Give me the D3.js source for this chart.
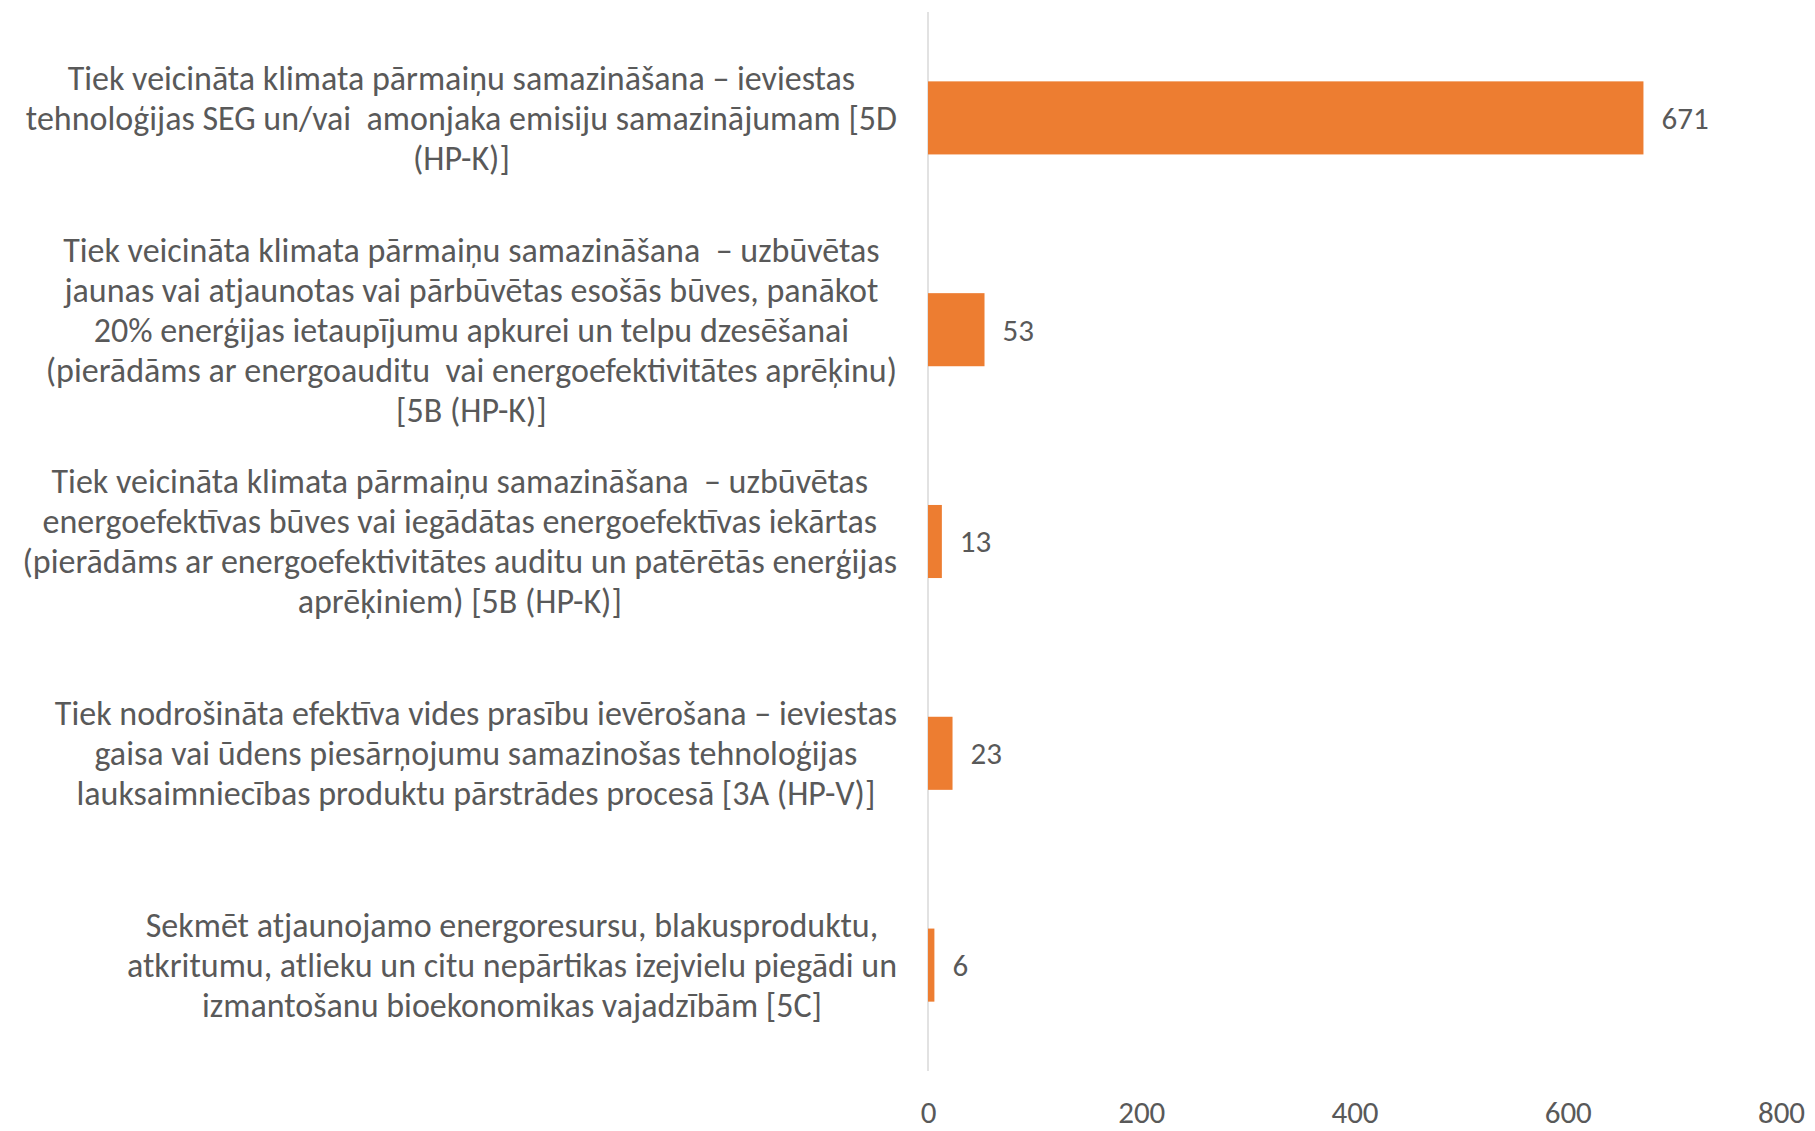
<!DOCTYPE html>
<html lang="lv">
<head>
<meta charset="utf-8">
<title>Bar chart</title>
<script src="https://cdn.jsdelivr.net/npm/d3@7"></script>
<style>
  body { margin: 0; background: #fff; }
  text { font-family: Carlito, Calibri, Lato, sans-serif; fill: #595959; white-space: pre; }
</style>
</head>
<body>
<script>
// categories (line breaks as in the original)
var categories = [
  "Tiek veicināta klimata pārmaiņu samazināšana – ieviestas\ntehnoloģijas SEG un/vai  amonjaka emisiju samazinājumam [5D\n(HP-K)]",
  "Tiek veicināta klimata pārmaiņu samazināšana  – uzbūvētas\njaunas vai atjaunotas vai pārbūvētas esošās būves, panākot\n20% enerģijas ietaupījumu apkurei un telpu dzesēšanai\n(pierādāms ar energoauditu  vai energoefektivitātes aprēķinu)\n[5B (HP-K)]",
  "Tiek veicināta klimata pārmaiņu samazināšana  – uzbūvētas\nenergoefektīvas būves vai iegādātas energoefektīvas iekārtas\n(pierādāms ar energoefektivitātes auditu un patērētās enerģijas\naprēķiniem) [5B (HP-K)]",
  "Tiek nodrošināta efektīva vides prasību ievērošana – ieviestas\ngaisa vai ūdens piesārņojumu samazinošas tehnoloģijas\nlauksaimniecības produktu pārstrādes procesā [3A (HP-V)]",
  "Sekmēt atjaunojamo energoresursu, blakusproduktu,\natkritumu, atlieku un citu nepārtikas izejvielu piegādi un\nizmantošanu bioekonomikas vajadzībām [5C]"
];
var values = [671, 53, 13, 23, 6];
var xTicks = [0, 200, 400, 600, 800];

var w = 1815, h = 1131;
var x0 = 928, x1 = 1781, yTop = 12, yBottom = 1071;
var fontSize = 34, numSize = 31, lineH = 40;

var svg = d3.select("body").append("svg")
  .attr("width", w)
  .attr("height", h);

var x = d3.scaleLinear().domain([0, 800]).range([x0, x1]);
var y = d3.scaleBand().domain(d3.range(categories.length))
  .range([yTop, yBottom]).paddingInner(0.655).paddingOuter(0.3275);

//// axis line
svg.append("line")
  .attr("x1", x0).attr("x2", x0)
  .attr("y1", yTop).attr("y2", yBottom)
  .attr("stroke", "#d9d9d9").attr("stroke-width", 1.5);

//// x tick labels
var xAxis = svg.append("g")
  .attr("transform", "translate(0," + 1112 + ")")
  .call(d3.axisBottom(x).tickValues(xTicks).tickSize(0).tickPadding(0));
xAxis.select(".domain").remove();
xAxis.selectAll("text")
  .attr("font-size", numSize + "px")
  .attr("dy", "0.35em")
  .attr("fill", "#595959")
  .style("font-family", "Carlito, Calibri, Lato, sans-serif");

//// bars
svg.selectAll("rect.bar")
  .data(values)
  .enter()
  .append("rect")
  .attr("class", "bar")
  .attr("x", x(0))
  .attr("y", function(d, i) { return y(i); })
  .attr("width", function(d) { return x(d) - x(0); })
  .attr("height", y.bandwidth())
  .attr("fill", "#ed7d31");

//// value labels
svg.selectAll("text.val")
  .data(values)
  .enter()
  .append("text")
  .attr("class", "val")
  .text(function(d) { return d; })
  .attr("x", function(d) { return x(d) + 18; })
  .attr("y", function(d, i) { return y(i) + y.bandwidth() / 2; })
  .attr("dy", "0.35em")
  .attr("font-size", numSize + "px");

//// category labels: centred on their widest line, right edge near the axis
var labelRight = 897;
categories.forEach(function(c, i) {
  var lines = c.split("\n");
  var g = svg.append("text").attr("font-size", fontSize + "px");
  var cy = y(i) + y.bandwidth() / 2;
  var spans = g.selectAll("tspan")
    .data(lines)
    .enter()
    .append("tspan")
    .text(function(d) { return d; })
    .attr("y", function(d, j) { return cy + (j - (lines.length - 1) / 2) * lineH; })
    .attr("dy", "0.35em")
    .attr("text-anchor", "middle");
  var maxW = 0;
  spans.each(function() { maxW = Math.max(maxW, this.getComputedTextLength()); });
  spans.attr("x", labelRight - maxW / 2);
});
</script>
</body>
</html>
